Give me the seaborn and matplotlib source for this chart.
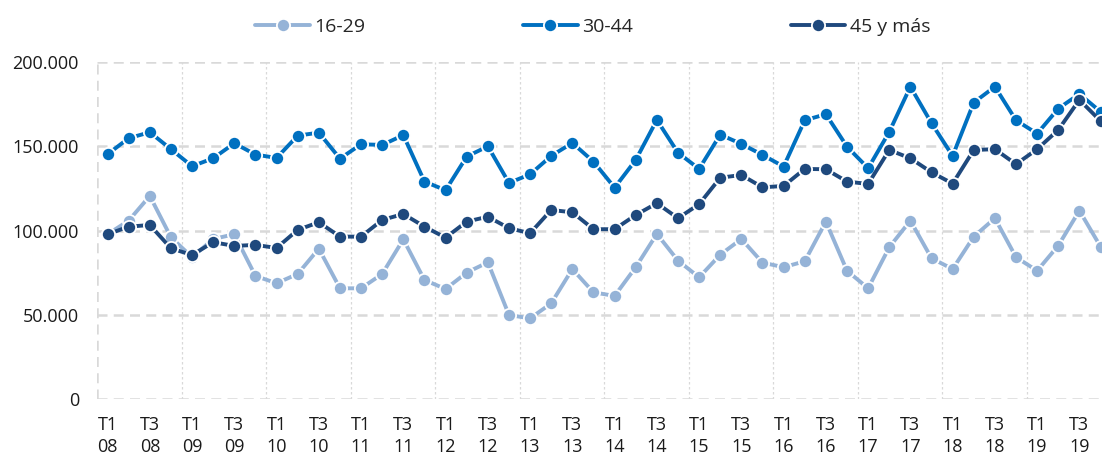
import numpy as np
import pandas as pd
import matplotlib
matplotlib.use('Agg')
import matplotlib.pyplot as plt
from matplotlib.ticker import FuncFormatter
import seaborn as sns

# Datos trimestrales T1 08 - T4 19 (miles)
trimestres = [f"T{q}\n{a:02d}" for a in range(8, 20) for q in range(1, 5)]
g1629 = [97.8, 105.9, 120.5, 96.0, 84.2, 95.0, 97.8, 73.1, 68.8, 74.3, 89.3, 65.8,
         65.8, 74.3, 94.8, 70.7, 65.4, 75.1, 81.2, 50.0, 48.0, 56.9, 77.2, 63.4,
         61.3, 78.3, 98.0, 82.2, 72.3, 85.7, 95.0, 81.0, 78.3, 81.8, 105.3, 76.2,
         65.8, 90.1, 105.9, 83.6, 77.2, 96.4, 107.3, 84.2, 76.2, 91.1, 111.8, 90.5]
g3044 = [145.2, 154.7, 158.2, 148.2, 138.1, 142.8, 151.7, 145.0, 143.0, 156.2, 158.0, 142.6,
         151.1, 150.7, 156.5, 129.0, 123.9, 143.8, 149.9, 128.2, 133.3, 144.2, 151.9, 140.8,
         125.4, 141.8, 165.5, 146.1, 136.5, 156.8, 151.3, 144.8, 137.9, 165.3, 168.9, 149.7,
         136.9, 158.4, 185.2, 163.6, 144.2, 175.8, 185.2, 165.3, 157.4, 172.2, 180.9, 170.4]
g45 = [97.8, 102.3, 103.3, 89.5, 85.5, 93.1, 90.9, 91.5, 89.7, 100.4, 104.9, 96.4,
       96.4, 106.3, 109.8, 102.3, 95.8, 105.3, 108.2, 101.4, 98.4, 112.2, 110.8, 100.8,
       100.8, 109.2, 116.2, 107.3, 115.6, 131.3, 132.9, 125.6, 126.4, 136.5, 136.3, 129.0,
       127.6, 147.7, 142.8, 134.5, 127.8, 147.7, 148.2, 139.3, 148.2, 159.6, 177.4, 164.9]

series = ['16-29', '30-44', '45 y más']
colores = ['#95B3D7', '#0070C0', '#1F497D']

df = pd.DataFrame({'t': np.arange(len(trimestres)),
                   '16-29': np.array(g1629) * 1000,
                   '30-44': np.array(g3044) * 1000,
                   '45 y más': np.array(g45) * 1000})

sns.set_style('white')
plt.rcParams['font.family'] = ['Open Sans', 'DejaVu Sans']

fig = plt.figure(figsize=(11.02, 4.59), dpi=100)
ax = fig.add_axes([97 / 1102, 0.1298, 1005 / 1102, 0.7358])

for s, c in zip(series, colores):
    sns.lineplot(data=df, x='t', y=s, color=c, marker='o', markersize=9.5,
                 markeredgecolor='white', markeredgewidth=1.3, linewidth=2.8,
                 label=s, ax=ax, clip_on=False)

ax.set_ylim(0, 200000)
ax.set_xlim(-0.5, 47.07)
ax.set_yticks([0, 50000, 100000, 150000, 200000])
ax.yaxis.set_major_formatter(FuncFormatter(lambda v, p: f"{int(v):,}".replace(',', '.')))
ax.set_xticks(np.arange(0, len(trimestres), 2))
ax.set_xticklabels(trimestres[::2], linespacing=1.25)
ax.tick_params(axis='y', length=0, pad=13, labelsize=13, labelcolor='#1a1a1a')
ax.tick_params(axis='x', length=0, pad=12, labelsize=13, labelcolor='#1a1a1a')
ax.set_xlabel('')
ax.set_ylabel('')

# rejilla
ax.grid(False)
for v in [0, 50000, 100000, 150000, 200000]:
    ax.axhline(v, color='#D9D9D9', lw=1.8, ls=(0, (4, 2.5)), zorder=0)
ax.axvline(-0.5, color='#D9D9D9', lw=1.8, ls=(0, (4, 2.5)), zorder=0)
for v in np.arange(3.5, 47, 4):
    ax.axvline(v, color='#D9D9D9', lw=0.9, ls=(0, (2, 2)), zorder=0)
for sp in ax.spines.values():
    sp.set_visible(False)

leg = ax.legend(loc='center', bbox_to_anchor=(593 / 1102, 1 - 27 / 459),
                bbox_transform=fig.transFigure, ncol=3, frameon=False,
                columnspacing=8.1, handlelength=2.8, handletextpad=0.25,
                prop={'size': 14})

fig.savefig('out.png', dpi=100)
